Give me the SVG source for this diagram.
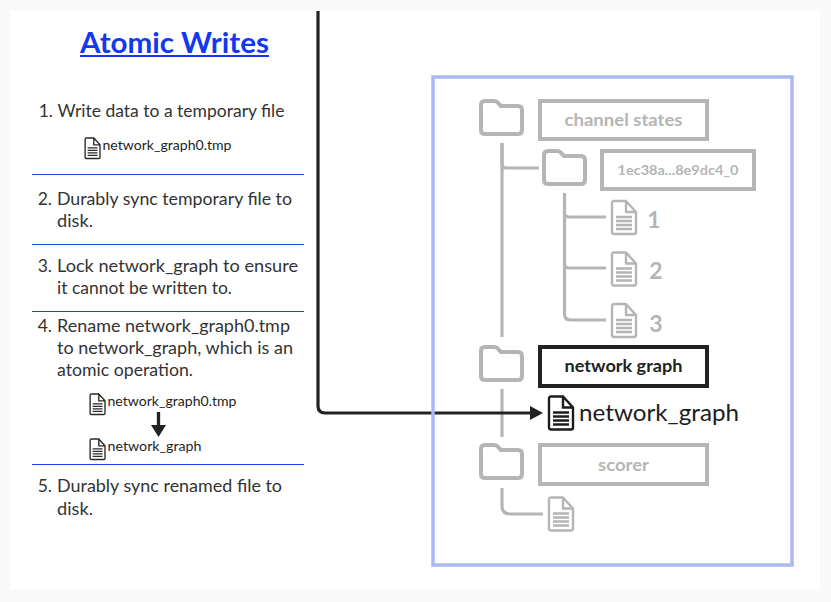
<svg xmlns="http://www.w3.org/2000/svg" width="831" height="602" viewBox="0 0 831 602">
<style>
text{font-family:"Lato","Noto Sans","Liberation Sans",sans-serif}
.step{font-size:17.5px;fill:#333}
.num{font-size:17.5px;fill:#333;text-anchor:end}
.fn{font-size:14px;fill:#1e1e1e}
.rule{stroke:#1c40e8;stroke-width:1.2;fill:none}
.g{stroke:#b5b5b5;stroke-width:3.200;fill:none;stroke-linejoin:round}
.box{stroke:#b5b5b5;stroke-width:4;fill:none}
.fo{stroke:#b5b5b5;stroke-width:4;fill:none;stroke-linejoin:round}
.fg{stroke:#b5b5b5;stroke-width:2.400;fill:none;stroke-linejoin:round}
.fs{stroke:#2a2a2a;stroke-width:2.200;fill:none}
.lbl{font-weight:700;text-anchor:middle}
</style>
<defs>
<path id="folder" d="M0 4Q0 0 4 0H13Q16 0 18 3L20 5H37Q41 5 41 9V29Q41 33 37 33H4Q0 33 0 29Z"/>
<path id="file" d="M3 0H15L25 11V31Q25 33 23 33H3Q1 33 1 31V2Q1 0 3 0ZM15 0V11H25M5 16H21M5 20H21M5 24H21M5 28H21"/>
</defs>
<rect width="831" height="602" fill="#f9f9f9"/>
<rect x="10" y="10" width="810" height="580" fill="#fff"/>
<g id="panel-title">
<text x="174.500" y="53" font-size="29" font-weight="700" fill="#1238f0" text-anchor="middle" textLength="189" lengthAdjust="spacingAndGlyphs">Atomic Writes</text>
<rect x="80" y="55" width="189" height="2" fill="#1238f0"/>
</g>
<g id="steps">
<text class="num" x="53" y="117">1.</text>
<text class="step" x="57.500" y="117" textLength="227" lengthAdjust="spacingAndGlyphs">Write data to a temporary file</text>
<text class="num" x="52" y="205">2.</text>
<text class="step" x="57" y="205" textLength="235" lengthAdjust="spacingAndGlyphs">Durably sync temporary file to</text>
<text class="step" x="57" y="227" textLength="36" lengthAdjust="spacingAndGlyphs">disk.</text>
<text class="num" x="52" y="272">3.</text>
<text class="step" x="57" y="272" textLength="241" lengthAdjust="spacingAndGlyphs">Lock network_graph to ensure</text>
<text class="step" x="57" y="294" textLength="175" lengthAdjust="spacingAndGlyphs">it cannot be written to.</text>
<text class="num" x="52" y="332">4.</text>
<text class="step" x="57" y="332" textLength="233" lengthAdjust="spacingAndGlyphs">Rename network_graph0.tmp</text>
<text class="step" x="57" y="354" textLength="236" lengthAdjust="spacingAndGlyphs">to network_graph, which is an</text>
<text class="step" x="57" y="376" textLength="136" lengthAdjust="spacingAndGlyphs">atomic operation.</text>
<text class="num" x="52" y="492">5.</text>
<text class="step" x="57" y="492" textLength="225" lengthAdjust="spacingAndGlyphs">Durably sync renamed file to</text>
<text class="step" x="57" y="515" textLength="36" lengthAdjust="spacingAndGlyphs">disk.</text>
</g>
<g id="rules">
<line class="rule" x1="32" y1="174.500" x2="304" y2="174.500"/>
<line class="rule" x1="32" y1="244.500" x2="304" y2="244.500"/>
<line class="rule" x1="32" y1="311.500" x2="304" y2="311.500"/>
<line class="rule" x1="32" y1="464.500" x2="304" y2="464.500"/>
</g>
<g id="file-tmp-1">
<use href="#file" class="fs" transform="translate(84.500 138) scale(.62)"/>
<text class="fn" x="102.500" y="150" textLength="129" lengthAdjust="spacingAndGlyphs">network_graph0.tmp</text>
</g>
<g id="file-tmp-2">
<use href="#file" class="fs" transform="translate(89.500 394) scale(.62)"/>
<text class="fn" x="107.500" y="406" textLength="129" lengthAdjust="spacingAndGlyphs">network_graph0.tmp</text>
</g>
<g id="file-final-small">
<use href="#file" class="fs" transform="translate(89.500 439) scale(.62)"/>
<text class="fn" x="107.500" y="451" textLength="94" lengthAdjust="spacingAndGlyphs">network_graph</text>
</g>
<g id="connectors">
<path d="M158.500 412V427" stroke="#222" stroke-width="3.300" fill="none"/>
<path d="M151 425H166L158.500 437Z" fill="#222"/>
<path class="g" d="M502 143V337"/>
<path class="g" d="M502 389V437"/>
<path class="g" d="M502 143V164Q502 168 506 168H539"/>
<path class="g" d="M564.500 193V213Q564.500 217 568.500 217H606"/>
<path class="g" d="M564.500 213V264Q564.500 268 568.500 268H606"/>
<path class="g" d="M564.500 264V314Q564.500 320 570.500 320H606"/>
<path class="g" d="M502 488V506Q502 514 510 514H543"/>
<path d="M318 11V406Q318 413 325 413H532" stroke="#222" stroke-width="3.200" fill="none"/>
<path d="M530 406L543 413L530 420Z" fill="#222"/>
</g>
<rect id="tree-frame" x="433" y="77" width="359" height="488" fill="none" stroke="#aab8f4" stroke-width="3.500"/>
<g id="folder-channel-states">
<use href="#folder" class="fo" transform="translate(481 101)"/>
<rect class="box" x="540" y="101" width="167" height="38"/>
<text class="lbl" x="623.500" y="126" font-size="17" fill="#b5b5b5" textLength="118" lengthAdjust="spacingAndGlyphs">channel states</text>
</g>
<g id="folder-channel-id">
<use href="#folder" class="fo" transform="translate(544 151)"/>
<rect class="box" x="602" y="151" width="152" height="38"/>
<text class="lbl" x="678" y="175" font-size="13.500" fill="#b5b5b5" textLength="121" lengthAdjust="spacingAndGlyphs">1ec38a...8e9dc4_0</text>
</g>
<g id="file-1">
<use href="#file" class="fg" transform="translate(611 201)"/>
<text class="lbl" x="654" y="228" font-size="23" fill="#b5b5b5">1</text>
</g>
<g id="file-2">
<use href="#file" class="fg" transform="translate(611 252.500)"/>
<text class="lbl" x="656" y="279" font-size="23" fill="#b5b5b5">2</text>
</g>
<g id="file-3">
<use href="#file" class="fg" transform="translate(611 304)"/>
<text class="lbl" x="656" y="332" font-size="23" fill="#b5b5b5">3</text>
</g>
<g id="folder-network-graph">
<use href="#folder" class="fo" transform="translate(481 347)"/>
<rect x="540" y="347" width="167" height="39" fill="none" stroke="#222" stroke-width="4"/>
<text class="lbl" x="623.500" y="372" font-size="17" fill="#222" textLength="118" lengthAdjust="spacingAndGlyphs">network graph</text>
</g>
<g id="file-network-graph">
<use href="#file" fill="none" stroke="#1c1c1c" stroke-width="2.400" transform="translate(548 396.500)"/>
<text x="579" y="421" font-size="24" fill="#1c1c1c" textLength="160" lengthAdjust="spacingAndGlyphs">network_graph</text>
</g>
<g id="folder-scorer">
<use href="#folder" class="fo" transform="translate(481 445)"/>
<rect class="box" x="540" y="445" width="167" height="39"/>
<text class="lbl" x="623.500" y="471" font-size="17" fill="#b5b5b5" textLength="51" lengthAdjust="spacingAndGlyphs">scorer</text>
</g>
<g id="file-scorer">
<use href="#file" class="fg" transform="translate(548 497.500)"/>
</g>
</svg>
